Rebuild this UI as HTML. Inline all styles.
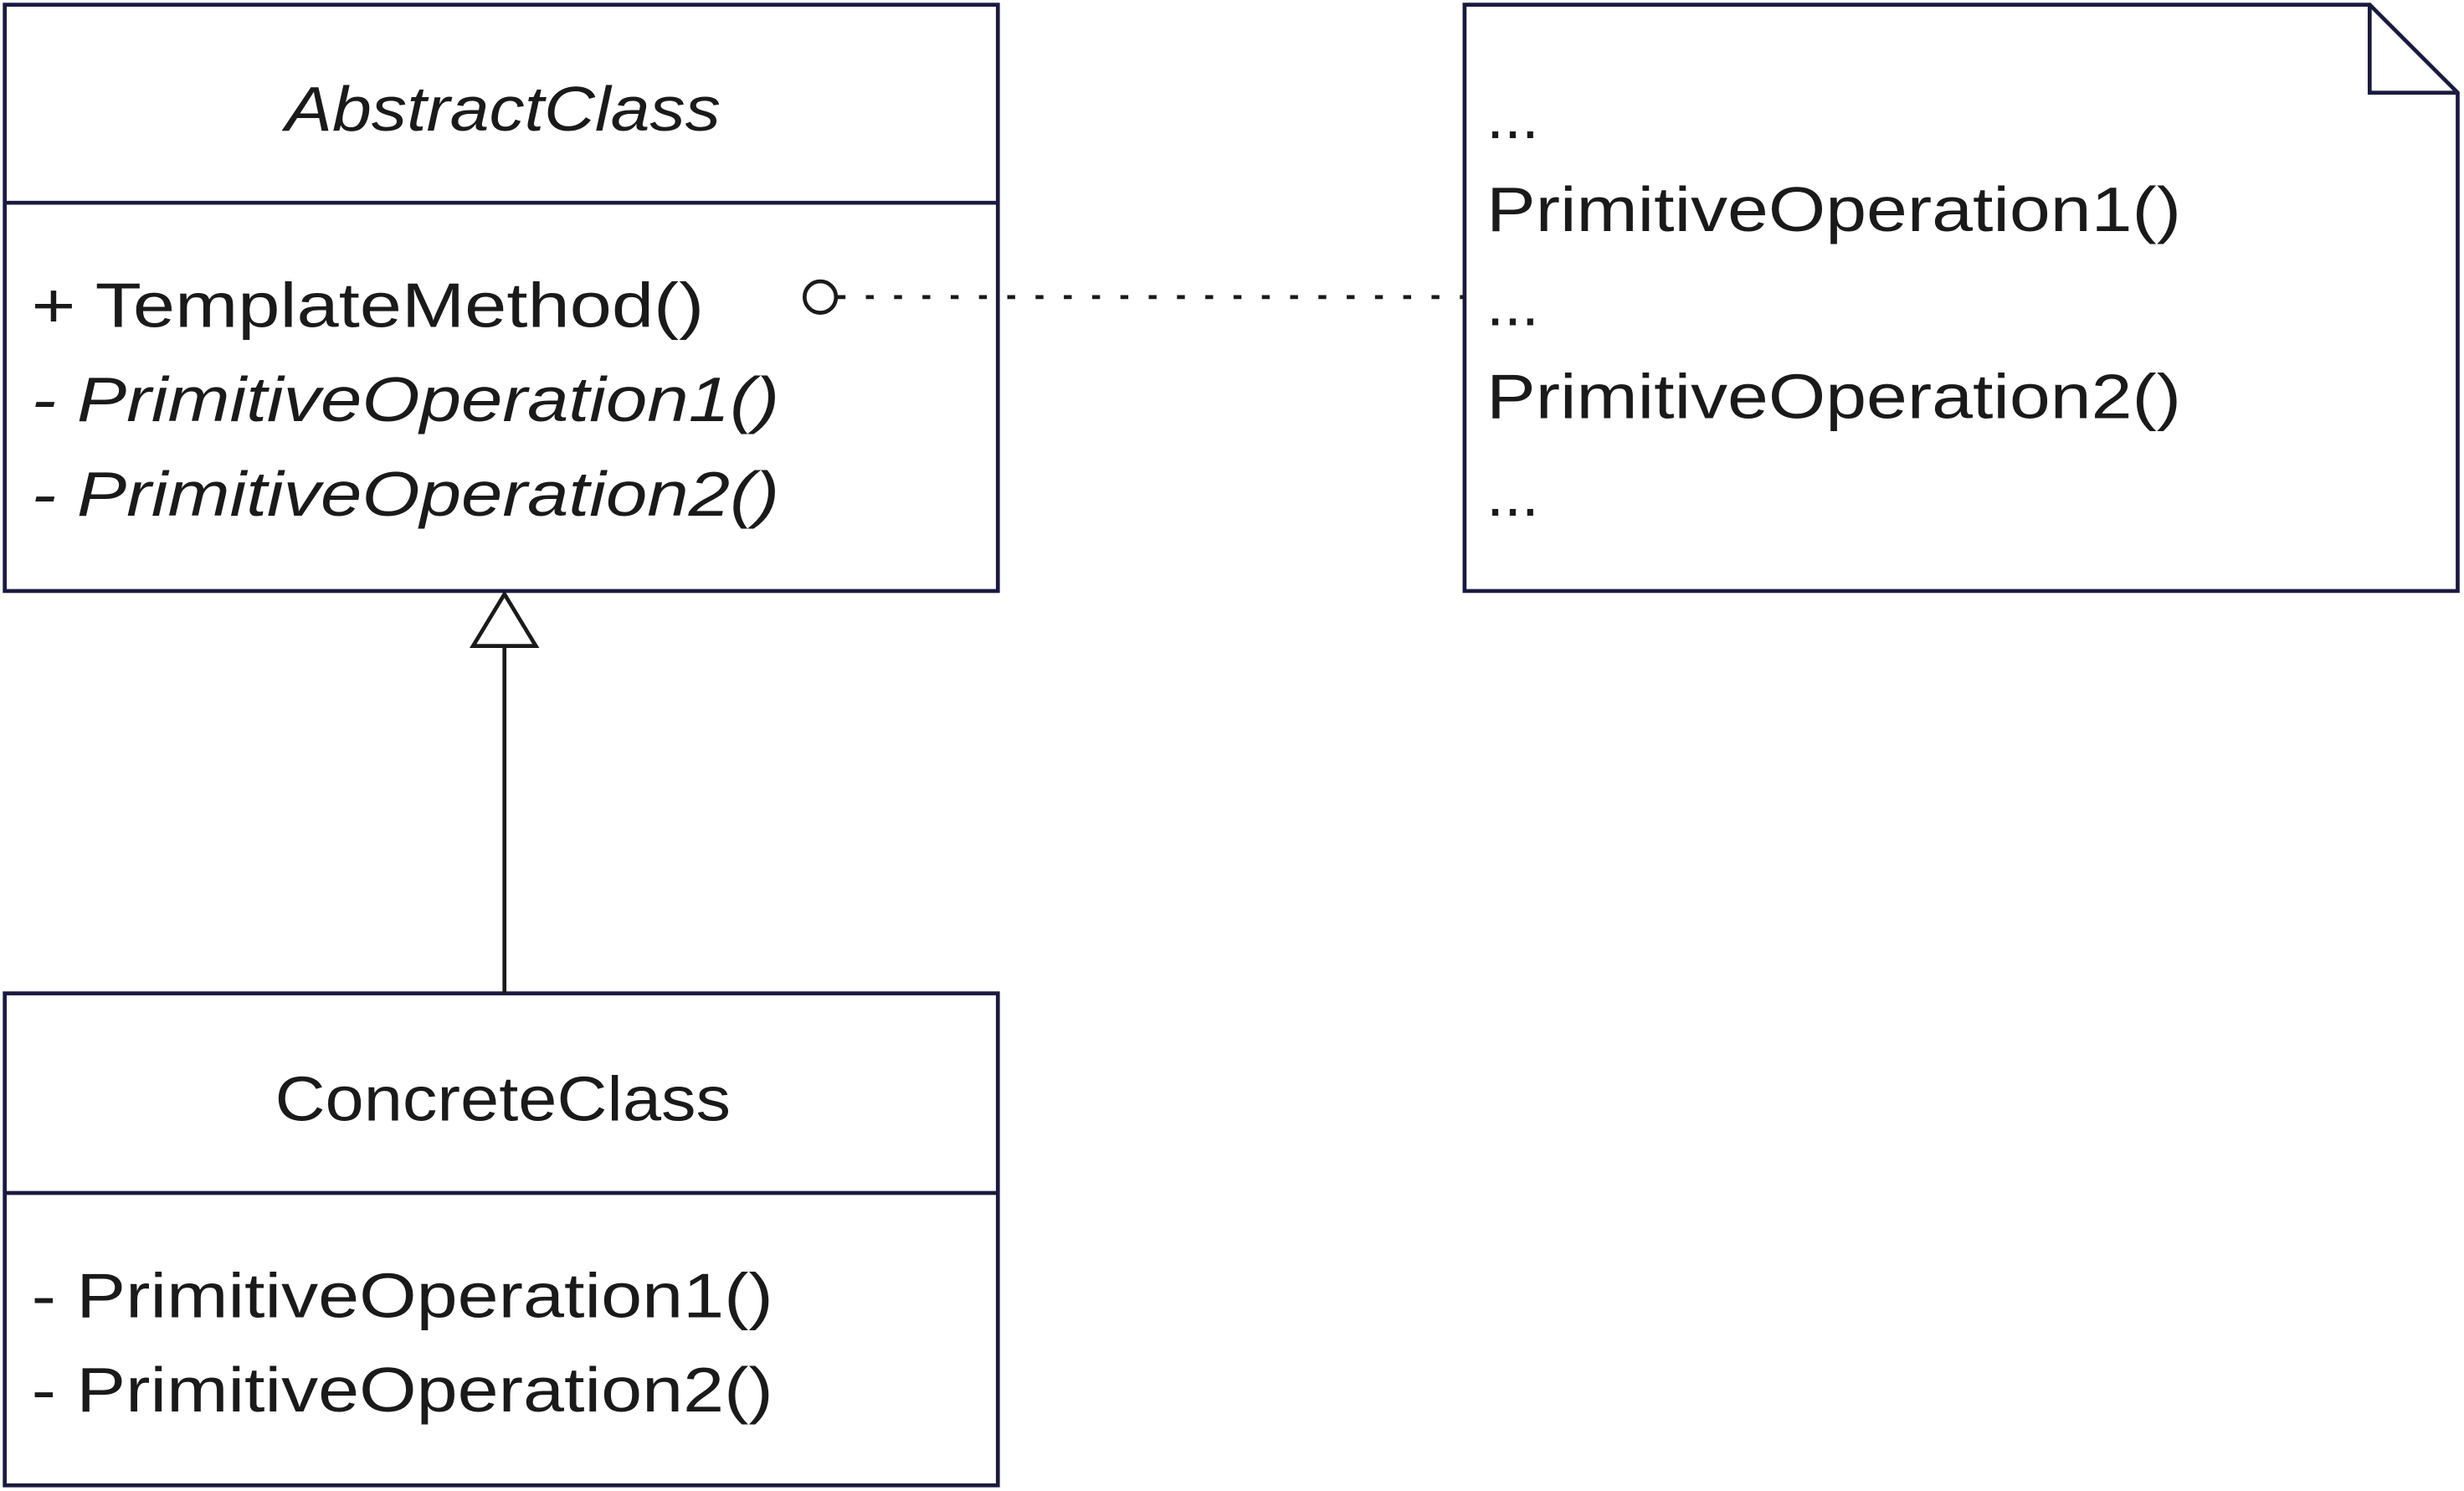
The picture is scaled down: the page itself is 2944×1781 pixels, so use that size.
<!DOCTYPE html>
<html><head><meta charset="utf-8"><style>
html,body{margin:0;padding:0;background:#fff;}
svg{display:block;}
text{font-family:"Liberation Sans","DejaVu Sans",sans-serif;font-size:40px;fill:#1a1a1a;}
</style></head><body>
<svg width="2944" height="1781" viewBox="0 0 1568 948.6" xmlns="http://www.w3.org/2000/svg">
<g fill="none" stroke="#1a1a40" stroke-width="2.5">
<rect x="3" y="3" width="632" height="373"/>
<line x1="3" y1="129" x2="635" y2="129"/>
<rect x="3" y="632" width="632" height="313"/>
<line x1="3" y1="759" x2="635" y2="759"/>
<path d="M932 3 H1508 L1564 59 V376 H932 Z"/>
<path d="M1508 3 V59 H1564"/>
</g>
<g fill="none" stroke="#1a1a1a" stroke-width="2.5">
<circle cx="522" cy="189" r="10" fill="#fff"/>
<line x1="533" y1="189" x2="932" y2="189" stroke-dasharray="5,13"/>
<polygon points="321,378 301,411 341,411" fill="#fff"/>
<line x1="321" y1="411" x2="321" y2="632"/>
</g>
<text x="320" y="83" text-anchor="middle" font-style="italic" textLength="277" lengthAdjust="spacingAndGlyphs">AbstractClass</text>
<text x="20" y="208" textLength="428" lengthAdjust="spacingAndGlyphs">+ TemplateMethod()</text>
<text x="20" y="268" font-style="italic" textLength="476" lengthAdjust="spacingAndGlyphs">- PrimitiveOperation1()</text>
<text x="20" y="328" font-style="italic" textLength="476" lengthAdjust="spacingAndGlyphs">- PrimitiveOperation2()</text>
<text x="320" y="713" text-anchor="middle" textLength="290" lengthAdjust="spacingAndGlyphs">ConcreteClass</text>
<text x="20" y="838" textLength="472" lengthAdjust="spacingAndGlyphs">- PrimitiveOperation1()</text>
<text x="20" y="898" textLength="472" lengthAdjust="spacingAndGlyphs">- PrimitiveOperation2()</text>
<text x="946" y="88">...</text>
<text x="946" y="147" textLength="442" lengthAdjust="spacingAndGlyphs">PrimitiveOperation1()</text>
<text x="946" y="207">...</text>
<text x="946" y="266" textLength="442" lengthAdjust="spacingAndGlyphs">PrimitiveOperation2()</text>
<text x="946" y="328">...</text>
</svg>
</body></html>
